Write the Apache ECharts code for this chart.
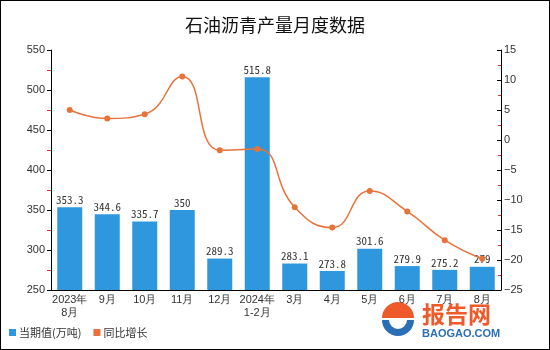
<!DOCTYPE html>
<html>
<head>
<meta charset="utf-8">
<script src="https://cdn.jsdelivr.net/npm/echarts@6/dist/echarts.min.js"></script>
<style>
  html, body { margin: 0; padding: 0; background: #fff; }
  #chart { width: 548px; height: 348px; border: 1px solid #000; }
</style>
</head>
<body>
<div id="chart"></div>
<script>
// Monthly petroleum asphalt output and year-on-year growth
const months = ['2023年\n8月', '9月', '10月', '11月', '12月', '2024年\n1-2月', '3月', '4月', '5月', '6月', '7月', '8月'];
const output = [353.3, 344.6, 335.7, 350, 289.3, 515.8, 283.1, 273.8, 301.6, 279.9, 275.2, 279];
const growth = [5.0, 3.6, 4.3, 10.6, -1.7, -1.5, -11.2, -14.6, -8.5, -11.9, -16.7, -19.8];

const chart = echarts.init(document.getElementById('chart'));
const axisFont = { color: '#333', fontSize: 11, fontFamily: 'Liberation Sans, Arial, sans-serif' };

chart.setOption({
  animation: false,
  title: {
    text: '石油沥青产量月度数据',
    left: 'center',
    top: 10,
    textStyle: { fontSize: 18, fontWeight: 'normal', color: '#111', fontFamily: 'Noto Sans CJK SC, sans-serif' }
  },
  grid: { left: 50, right: 48, top: 49, bottom: 59 },
  legend: {
    left: 3,
    bottom: 6,
    itemWidth: 7,
    itemHeight: 7,
    itemGap: 12,
    icon: 'rect',
    textStyle: { fontSize: 11, color: '#333', padding: [0, 0, 0, -2], fontFamily: 'Noto Sans CJK SC, sans-serif' },
    data: ['当期值(万吨)', '同比增长']
  },
  xAxis: {
    type: 'category',
    data: months,
    axisLine: { onZero: false, lineStyle: { color: '#000' } },
    axisTick: { show: false },
    axisLabel: Object.assign({ interval: 0, margin: 3, lineHeight: 13 }, axisFont)
  },
  yAxis: [
    {
      type: 'value',
      min: 250,
      max: 550,
      interval: 50,
      axisLine: { show: true, lineStyle: { color: '#000' } },
      axisTick: { show: true, length: 4, lineStyle: { color: '#000' } },
      minorTick: { show: true, splitNumber: 2, length: 4, lineStyle: { color: '#e03030' } },
      splitLine: { show: false },
      axisLabel: Object.assign({ margin: 6 }, axisFont)
    },
    {
      type: 'value',
      min: -25,
      max: 15,
      interval: 5,
      axisLine: { show: true, lineStyle: { color: '#000' } },
      axisTick: { show: true, inside: true, length: 4, lineStyle: { color: '#000' } },
      minorTick: { show: true, splitNumber: 2, length: 3, lineStyle: { color: '#e03030' } },
      splitLine: { show: false },
      axisLabel: Object.assign({ margin: 3, formatter: v => String(v).replace('-', '\u2212') }, axisFont)
    }
  ],
  series: [
    {
      name: '当期值(万吨)',
      type: 'bar',
      data: output,
      barWidth: 25,
      itemStyle: { color: '#2F97DE' },
      label: {
        show: true,
        position: 'top',
        distance: 2,
        color: '#333',
        fontSize: 11,
        fontFamily: 'Noto Sans Mono CJK SC, Liberation Mono, monospace'
      }
    },
    {
      name: '同比增长',
      type: 'line',
      yAxisIndex: 1,
      data: growth,
      smooth: true,
      symbol: 'circle',
      symbolSize: 6,
      lineStyle: { color: '#E8733A', width: 1.5 },
      itemStyle: { color: '#E8733A' }
    }
  ],
  graphic: [
    {
      type: 'group',
      left: 381,
      top: 301,
      children: [
        { type: 'sector', shape: { cx: 17, cy: 15, r: 16, r0: 0, startAngle: Math.PI, endAngle: 2 * Math.PI }, style: { fill: '#EE5A2A' } },
        { type: 'sector', shape: { cx: 17, cy: 17, r: 16, r0: 9, startAngle: 0, endAngle: Math.PI }, style: { fill: '#2A6FB5' } },
        { type: 'text', x: 41, y: 0, style: { text: '报告网', fill: '#EE5A2A', font: 'bold 23px Noto Sans CJK SC, sans-serif' } },
        { type: 'text', x: 41, y: 25, style: { text: 'BAOGAO.COM', fill: '#2A6FB5', font: 'bold 11px Liberation Sans, Arial, sans-serif' } }
      ]
    }
  ]
});
</script>
</body>
</html>
